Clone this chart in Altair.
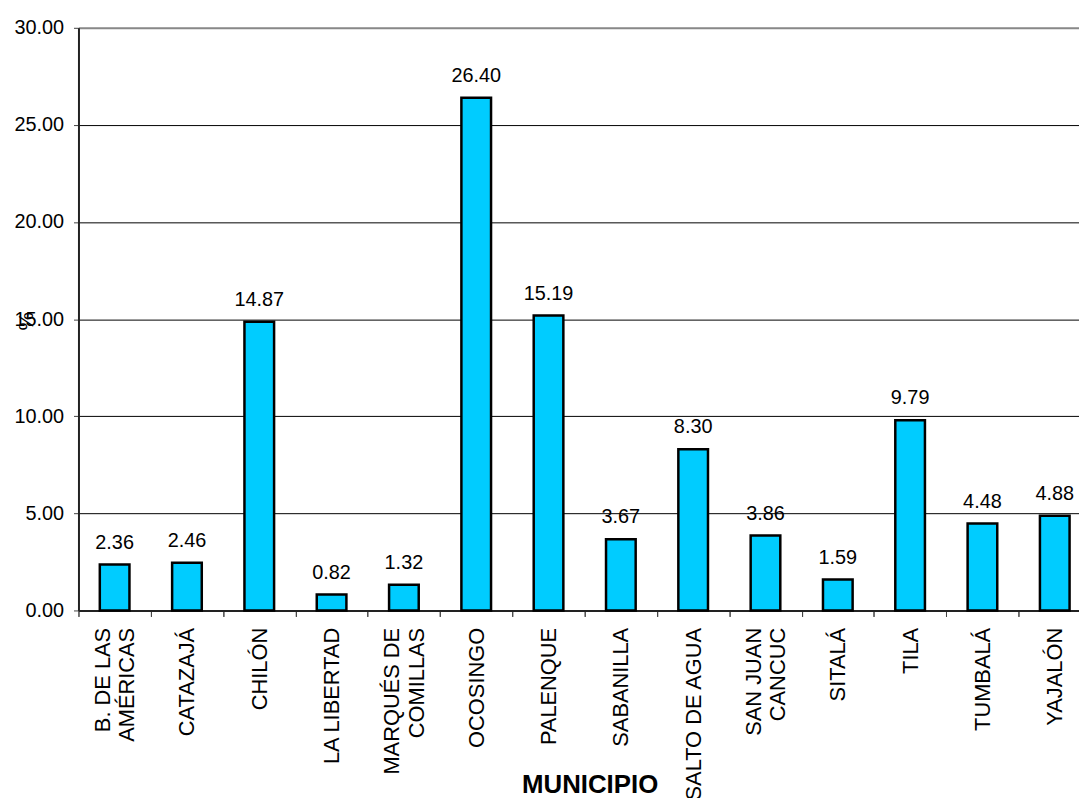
import altair as alt
import pandas as pd

categories = ["B. DE LAS|AMÉRICAS", "CATAZAJÁ", "CHILÓN", "LA LIBERTAD",
              "MARQUÉS DE|COMILLAS", "OCOSINGO", "PALENQUE", "SABANILLA",
              "SALTO DE AGUA", "SAN JUAN|CANCUC", "SITALÁ", "TILA",
              "TUMBALÁ", "YAJALÓN"]
values = [2.36, 2.46, 14.87, 0.82, 1.32, 26.40, 15.19, 3.67, 8.30, 3.86,
          1.59, 9.79, 4.48, 4.88]
y_ticks = [0, 5, 10, 15, 20, 25, 30]

df = pd.DataFrame({"municipio": categories, "pct": values})

FONT = "Liberation Sans"

common_x_axis = dict(
    orient="bottom",
    labelAngle=270, labelAlign="right", labelBaseline="middle",
    labelFont=FONT, labelFontSize=22, labelColor="black",
    labelLineHeight=25, labelPadding=11, labelLimit=0,
    tickBand="extent", tickSize=6, tickColor="#444", tickWidth=1,
    domainColor="#222", domainWidth=2, grid=False,
)

x_bar = alt.X(
    "municipio:N",
    sort=categories,
    scale=alt.Scale(paddingInner=0, paddingOuter=0),
    axis=alt.Axis(
        title="MUNICIPIO",
        titleFont=FONT, titleFontSize=26, titleFontWeight="bold", titleColor="black",
        titleX=515, titleY=175, titleBaseline="middle", titleAlign="center",
        labelExpr="indexof(datum.label, '|') >= 0 ? '' : datum.label",
        **common_x_axis,
    ),
)

x_txt = alt.X(
    "municipio:N",
    sort=categories,
    axis=alt.Axis(
        title=None,
        labelExpr="indexof(datum.label, '|') >= 0 ? split(datum.label, '|') : ''",
        labelOffset=-12.5,
        **common_x_axis,
    ),
)

y_enc = alt.Y(
    "pct:Q",
    scale=alt.Scale(domain=[0, 30], nice=False),
    axis=alt.Axis(
        values=y_ticks, format=".2f",
        title="%", titleFont=FONT, titleFontSize=21, titleFontWeight="normal",
        titleColor="black", titleX=-52, titleY=295, titleBaseline="middle",
        titleAlign="center", titleAngle=270,
        labelFont=FONT, labelFontSize=20, labelColor="black", labelPadding=10,
        tickSize=5, tickColor="#444", tickWidth=1,
        domainColor="#222", domainWidth=2,
        grid=True,
        gridColor=alt.condition("datum.value == 30", alt.value("#888888"), alt.value("#000000")),
        gridWidth=alt.condition("datum.value == 30", alt.value(2), alt.value(1)),
    ),
)

bars = alt.Chart(df).mark_bar(
    width=alt.RelativeBandSize(0.41), color="#00CCFF", stroke="black", strokeWidth=2.5
).encode(x=x_bar, y=y_enc)

labels = alt.Chart(df).mark_text(
    font=FONT, fontSize=20, color="black", baseline="alphabetic", dy=-16
).encode(
    x=x_txt,
    y=alt.Y("pct:Q"),
    text=alt.Text("pct:Q", format=".2f"),
)

chart = alt.layer(bars, labels).resolve_axis(x="independent").properties(
    width=1020, height=587,
    autosize=alt.AutoSizeParams(type="none"),
    padding={"left": 71, "top": 17, "right": -12, "bottom": 186},
).configure_view(stroke=None).configure(background="white")

chart.save("out.html", embed_options={"renderer": "svg", "actions": False})
